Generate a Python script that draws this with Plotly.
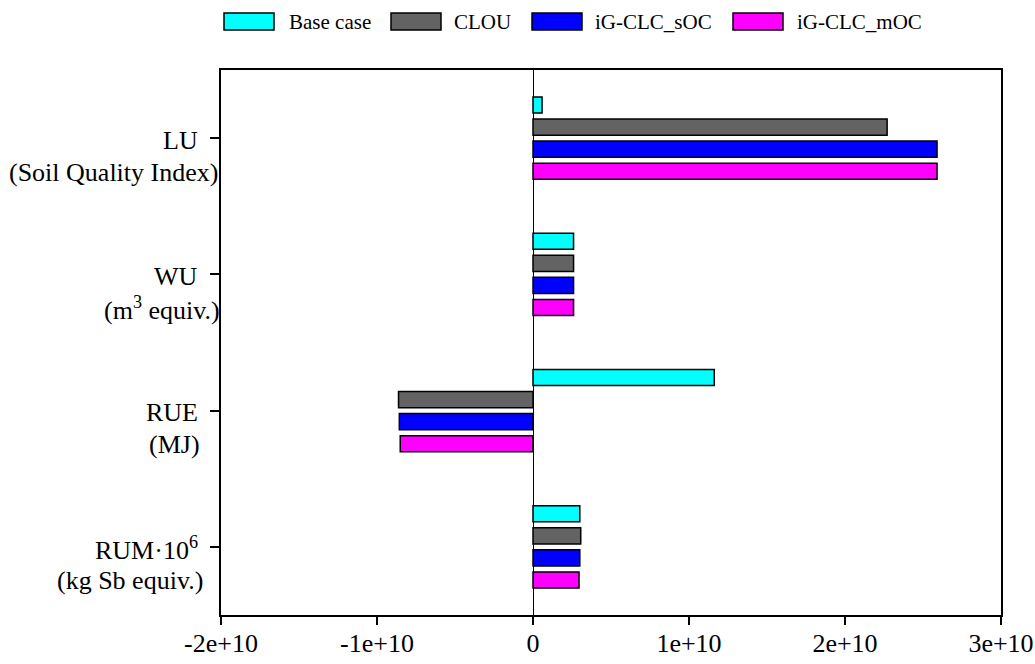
import plotly.graph_objects as go

# Category labels (two lines each) and series values
categories = ["LU", "WU", "RUE", "RUM"]
label_top = ["LU", "WU", "RUE", "RUM·10<sup>6</sup>"]
label_bottom = ["(Soil Quality Index)", "(m<sup>3</sup> equiv.)", "(MJ)", "(kg Sb equiv.)"]

series_names = ["Base case", "CLOU", "iG-CLC_sOC", "iG-CLC_mOC"]
base_case = [0.058e10, 0.26e10, 1.162e10, 0.300e10]
clou = [2.27e10, 0.26e10, -0.862e10, 0.306e10]
ig_clc_soc = [2.59e10, 0.26e10, -0.857e10, 0.300e10]
ig_clc_moc = [2.59e10, 0.26e10, -0.851e10, 0.295e10]

colors = ["#00FFFF", "#636363", "#0000FF", "#FF00FF"]
tick_vals = [-2e10, -1e10, 0, 1e10, 2e10, 3e10]
tick_text = ["-2e+10", "-1e+10", "0", "1e+10", "2e+10", "3e+10"]

FONT = "Liberation Serif"

fig = go.Figure()
for name, vals, col in zip(series_names, [base_case, clou, ig_clc_soc, ig_clc_moc], colors):
    fig.add_trace(go.Bar(
        y=categories, x=vals, name=name, orientation="h",
        marker=dict(color=col, line=dict(color="black", width=1.5)),
        showlegend=False,
    ))

W, H = 1035, 664
ml, mr, mt, mb = 221, 34, 70, 49

fig.update_layout(
    width=W, height=H,
    margin=dict(l=ml, r=mr, t=mt, b=mb),
    paper_bgcolor="white", plot_bgcolor="white",
    barmode="group", bargap=0.353, bargroupgap=0.27,
    font=dict(family=FONT, size=26, color="black"),
)
fig.update_xaxes(
    range=[-2e10, 3e10], tickvals=tick_vals, ticktext=tick_text,
    showgrid=False, zeroline=True, zerolinecolor="black", zerolinewidth=1,
    showline=True, linecolor="black", linewidth=1.5, mirror=True,
    ticks="outside", ticklen=8, tickwidth=1.5, tickcolor="black",
    tickfont=dict(family=FONT, size=26), automargin=False,
    ticklabelstandoff=-4,
)
fig.update_yaxes(
    categoryorder="array", categoryarray=categories, range=[3.5, -0.5],
    showgrid=False, showline=True, linecolor="black", linewidth=1.5, mirror=True,
    ticks="outside", ticklen=9, tickwidth=1.5, tickcolor="black",
    showticklabels=False, automargin=False,
)

# Two-line category labels: first line level with the tick
second_shift = [20, 22, 2, 5]
for cat, top, bot, sh in zip(categories, label_top, label_bottom, second_shift):
    fig.add_annotation(x=0, xref="paper", y=cat, yref="y", text=top,
                       xanchor="right", yanchor="middle", xshift=-21, yshift=-2,
                       showarrow=False, font=dict(family=FONT, size=26))
    fig.add_annotation(x=0, xref="paper", y=cat, yref="y", text=bot,
                       xanchor="right", yanchor="middle", xshift=-21 + sh, yshift=-34,
                       showarrow=False, font=dict(family=FONT, size=26))

# Legend row above the plot
sw_left = [224, 391, 532, 733]
txt_left = [287, 452, 593, 795]
pw = W - ml - mr
for name, col, sl, tl in zip(series_names, colors, sw_left, txt_left):
    fig.add_shape(type="rect", xref="paper", yref="paper",
                  xsizemode="pixel", ysizemode="pixel",
                  xanchor=(sl - ml) / pw, yanchor=1,
                  x0=0, x1=50, y0=mt - 30, y1=mt - 13,
                  fillcolor=col, line=dict(color="black", width=1.5))
    fig.add_annotation(x=(tl - ml) / pw, xref="paper", y=1, yref="paper",
                       yshift=mt - 22, text=name, xanchor="left", yanchor="middle",
                       showarrow=False, font=dict(family=FONT, size=21))

fig.write_html(
    "out.html",
    post_script="document.body.style.margin='0';document.body.style.overflow='hidden';",
)
